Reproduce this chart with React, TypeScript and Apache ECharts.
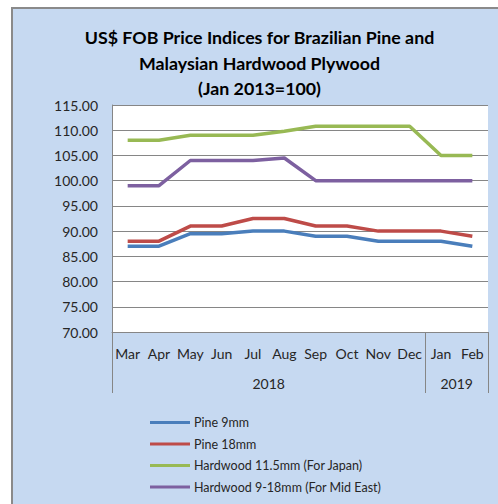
import React, { useEffect, useRef } from "react";
import * as echarts from "echarts";

const months = ["Mar", "Apr", "May", "Jun", "Jul", "Aug", "Sep", "Oct", "Nov", "Dec", "Jan", "Feb"];
const pine9 = [87, 87, 89.5, 89.5, 90, 90, 89, 89, 88, 88, 88, 87];
const pine18 = [88, 88, 91, 91, 92.5, 92.5, 91, 91, 90, 90, 90, 89];
const hard115 = [108, 108, 109, 109, 109, 109.8, 110.8, 110.8, 110.8, 110.8, 105, 105];
const hard918 = [99, 99, 104, 104, 104, 104.5, 100, 100, 100, 100, 100, 100];
const seriesNames = ["Pine 9mm", "Pine 18mm", "Hardwood 11.5mm (For Japan)", "Hardwood 9-18mm (For Mid East)"];
const years = ["2018", "2019"];
const yearBounds = [0, 10, 12];
const yearCenters = [5, 11];

const FONT = "Lato";
const TXT = "#262626";
const GRID = "#868686";

export default function App() {
  const ref = useRef<HTMLDivElement>(null);
  useEffect(() => {
    if (!ref.current) return;
    const chart = echarts.init(ref.current, null, { renderer: "svg" });
    const colors = ["#4A7EBB", "#BE4B48", "#98B954", "#7D60A0"];
    const data = [pine9, pine18, hard115, hard918];
    chart.setOption({
      animation: false,
      backgroundColor: "#ffffff",
      textStyle: { fontFamily: FONT },
      graphic: [
        {
          type: "rect",
          shape: { x: 12, y: 8, width: 500, height: 510 },
          style: { fill: "#C6D9F1", stroke: "#8A8A8A", lineWidth: 2 },
          z: -10,
        },
        {
          type: "text",
          x: 259.5,
          y: 24.5,
          style: {
            text: "US$ FOB Price Indices for Brazilian Pine and\nMalaysian Hardwood Plywood\n(Jan 2013=100)",
            align: "center",
            verticalAlign: "top",
            font: `bold 17.8px ${FONT}`,
            lineHeight: 25.5,
            fill: "#000000",
          },
        },
      ],
      legend: {
        orient: "vertical",
        left: 150,
        top: 416,
        padding: 0,
        icon: "rect",
        itemWidth: 40,
        itemHeight: 3,
        itemGap: 8.5,
        textStyle: { fontSize: 12.5, color: TXT, fontFamily: FONT, padding: [0, 0, 0, -1] },
        data: seriesNames,
      },
      grid: {
        left: 112,
        right: 10,
        top: 105,
        bottom: 172,
        show: true,
        backgroundColor: "#ffffff",
        borderWidth: 0,
        outerBoundsMode: "none",
      },
      xAxis: [
        {
          type: "category",
          data: months,
          boundaryGap: true,
          axisLine: { show: true, lineStyle: { color: GRID, width: 1 } },
          axisTick: { show: false },
          axisLabel: { color: TXT, fontSize: 14, margin: 14, interval: 0, fontFamily: FONT },
        },
        {
          type: "value",
          min: 0,
          max: 12,
          position: "bottom",
          axisLine: { show: false },
          splitLine: { show: false },
          axisTick: {
            show: true,
            customValues: yearBounds,
            length: 61,
            lineStyle: { color: GRID, width: 1 },
          },
          axisLabel: {
            show: true,
            customValues: yearCenters,
            formatter: (v: number) => years[yearCenters.indexOf(v)] ?? "",
            color: TXT,
            fontSize: 14,
            margin: 44,
            fontFamily: FONT,
          },
        },
      ],
      yAxis: {
        type: "value",
        min: 70,
        max: 115,
        interval: 5,
        axisLine: { show: true, lineStyle: { color: GRID, width: 1 } },
        axisTick: { show: false },
        splitLine: { show: true, lineStyle: { color: GRID, width: 1 } },
        axisLabel: {
          color: TXT,
          fontSize: 14,
          margin: 14,
          fontFamily: FONT,
          formatter: (v: number) => v.toFixed(2),
        },
      },
      series: seriesNames.map((name, i) => ({
        name,
        type: "line",
        data: data[i],
        xAxisIndex: 0,
        showSymbol: false,
        symbol: "none",
        lineStyle: { width: 3.5, color: colors[i] },
        itemStyle: { color: colors[i] },
      })),
    });
    return () => chart.dispose();
  }, []);
  return (
    <div
      ref={ref}
      style={{ position: "fixed", left: 0, top: 0, width: 498, height: 504 }}
    />
  );
}
